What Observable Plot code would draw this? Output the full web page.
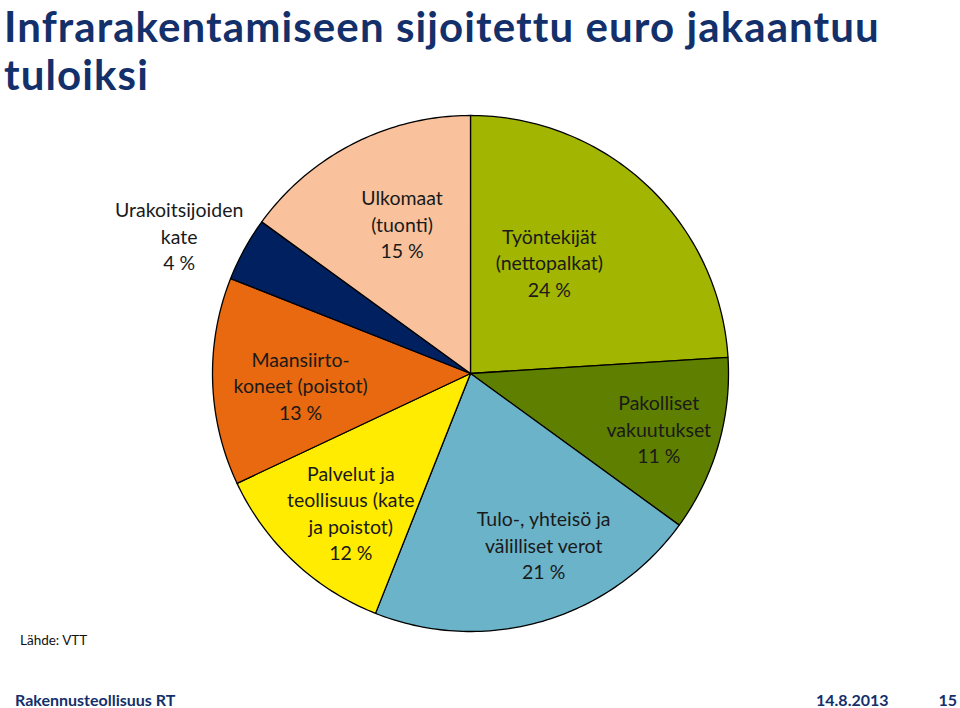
<!DOCTYPE html>
<html>
<head>
<meta charset="utf-8">
<script src="https://cdn.jsdelivr.net/npm/d3@7"></script>
<script src="https://cdn.jsdelivr.net/npm/@observablehq/plot@0.6"></script>
<style>
  html, body { margin: 0; padding: 0; background: #fff; }
  #page { position: relative; width: 960px; height: 708px; overflow: hidden; font-family: Lato, "Open Sans", sans-serif; }
  #title { position: absolute; left: 4px; top: 2px; font-size: 42px; font-weight: 700; color: #13306b; line-height: 48px; letter-spacing: 1.1px; white-space: nowrap; }
  #chart { position: absolute; left: 0; top: 100px; }
  #source { position: absolute; left: 20px; top: 632px; font-size: 13.5px; line-height: 16px; color: #111; }
  .foot { position: absolute; top: 691px; font-size: 16px; line-height: 17px; font-weight: 700; color: #13306b; white-space: nowrap; }
</style>
</head>
<body>
<div id="page">
  <div id="title">Infrarakentamiseen sijoitettu euro jakaantuu<br>tuloiksi</div>
  <div id="chart"></div>
  <div id="source">Lähde: VTT</div>
  <div class="foot" style="left:15px">Rakennusteollisuus RT</div>
  <div class="foot" style="left:816px">14.8.2013</div>
  <div class="foot" style="right:3px">15</div>
</div>
<script>
// Data (clockwise from 12 o'clock)
const categories = [
  "Työntekijät\n(nettopalkat)",
  "Pakolliset\nvakuutukset",
  "Tulo-, yhteisö ja\nvälilliset verot",
  "Palvelut ja\nteollisuus (kate\nja poistot)",
  "Maansiirto-\nkoneet (poistot)",
  "Urakoitsijoiden\nkate",
  "Ulkomaat\n(tuonti)"
];
const shares = [24, 11, 21, 12, 13, 4, 15];
const sliceColors = ["#a2b500", "#5e7f00", "#6bb3c9", "#ffec00", "#e8690f", "#002060", "#f9c29c"];

// Layout (label placement, in pie-radius units / degrees)
const labelRadius = [0.53, 0.76, 0.72, 0.71, 0.66, 1.25, 0.64];
const labelAngleShift = [-8, 0, -7, -2.4, -2, -3.4, 2.5];

const pie = d3.pie().sort(null).value(d => d)(shares);

const polys = [];
pie.forEach((p, i) => {
  const n = Math.max(8, Math.ceil((p.endAngle - p.startAngle) / (2 * Math.PI) * 360));
  polys.push({name: categories[i], x: 0, y: 0});
  for (let k = 0; k <= n; k++) {
    const a = p.startAngle + (p.endAngle - p.startAngle) * k / n;
    polys.push({name: categories[i], x: Math.sin(a), y: Math.cos(a)});
  }
  polys.push({name: categories[i], x: 0, y: 0});
});

const labels = pie.map((p, i) => {
  const a = (p.startAngle + p.endAngle) / 2 + labelAngleShift[i] * Math.PI / 180;
  return {
    text: categories[i] + "\n" + shares[i] + " %",
    x: labelRadius[i] * Math.sin(a),
    y: labelRadius[i] * Math.cos(a)
  };
});

const R = 258;
const W = 960, H = 540, cx = 470, cy = 273;
const chart = Plot.plot({
  width: W,
  height: H,
  margin: 0,
  x: {domain: [-cx / R, (W - cx) / R], axis: null},
  y: {domain: [-(H - cy) / R, cy / R], axis: null},
  color: {domain: categories, range: sliceColors},
  style: {fontFamily: "Lato, 'Open Sans', sans-serif", background: "white"},
  marks: [
    Plot.line(polys, {x: "x", y: "y", z: "name", fill: "name", stroke: "#000", strokeWidth: 1.3, strokeLinejoin: "round"}),
    Plot.text(labels, {x: "x", y: "y", text: "text", fontSize: 19.5, lineHeight: 1.36, fill: "#1a1a1a", textAnchor: "middle", lineAnchor: "middle"})
  ]
});
document.getElementById("chart").appendChild(chart);
</script>
</body>
</html>
